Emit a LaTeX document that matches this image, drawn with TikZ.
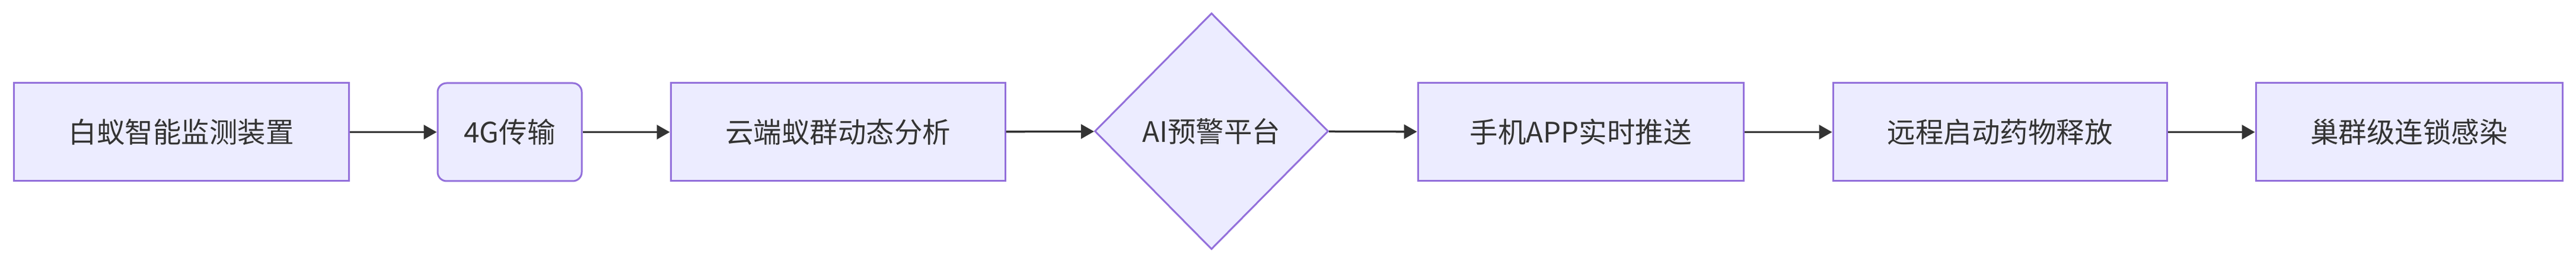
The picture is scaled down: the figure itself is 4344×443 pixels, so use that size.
\documentclass[tikz,border=0pt]{standalone}
\usepackage{fontspec}
\setmainfont{Noto Sans CJK SC}
\usetikzlibrary{shapes.geometric,arrows.meta}
\definecolor{boxfill}{HTML}{ECECFF}
\definecolor{boxline}{HTML}{9370DB}
\definecolor{txt}{HTML}{333333}
\tikzset{
  stepbox/.style={draw=boxline,fill=boxfill,line width=3pt,inner sep=0pt,minimum height=165pt,text=txt,font=\fontsize{47.5pt}{52pt}\selectfont},
  roundbox/.style={stepbox,rounded corners=15pt},
  decide/.style={shape=diamond,draw=boxline,fill=boxfill,line width=3pt,inner sep=0pt,minimum width=394pt,minimum height=398pt,text=txt,font=\fontsize{47.5pt}{52pt}\selectfont},
  flow/.style={draw=txt,line width=3.5pt,-{Triangle[length=22pt,width=24pt]}}
}
\begin{document}
\begin{tikzpicture}[x=1pt,y=-1pt]
\fill[white] (0,0) rectangle (4344,443);
\useasboundingbox (0,0) rectangle (4344,443);
\node[stepbox,minimum width=565pt] (a) at (305.5,222.5) {白蚁智能监测装置};
\node[roundbox,minimum width=243pt] (b) at (859.5,222.5) {4G传输};
\node[stepbox,minimum width=564pt] (c) at (1413,222.5) {云端蚁群动态分析};
\node[decide] (d) at (2043,221) {AI预警平台};
\node[stepbox,minimum width=549pt] (e) at (2665.5,222.5) {手机APP实时推送};
\node[stepbox,minimum width=563pt] (f) at (3372.5,222.5) {远程启动药物释放};
\node[stepbox,minimum width=517pt] (g) at (4062.5,222.5) {巢群级连锁感染};
\draw[flow] (a) -- (b);
\draw[flow] (b) -- (c);
\draw[flow] (c) -- (d);
\draw[flow] (d) -- (e);
\draw[flow] (e) -- (f);
\draw[flow] (f) -- (g);
\end{tikzpicture}
\end{document}
